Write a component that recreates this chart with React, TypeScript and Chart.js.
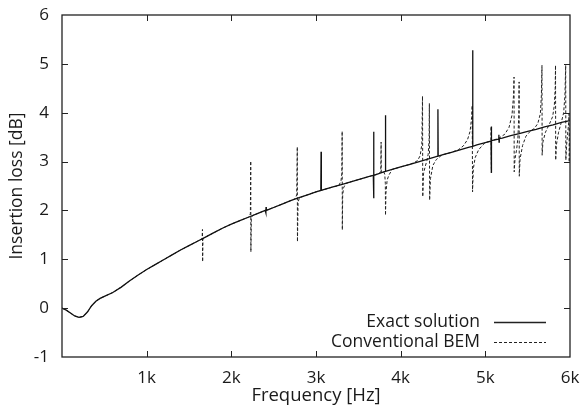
import { useEffect, useRef } from "react";
import { Chart, registerables } from "chart.js";
Chart.register(...registerables);

const FONT = "'Open Sans', 'DejaVu Sans', sans-serif";
const TEXT = "#1a1a1a";

const xTickValues = [1000, 2000, 3000, 4000, 5000, 6000];
const xTickLabels = ["1k", "2k", "3k", "4k", "5k", "6k"];
const yTickValues = [-1, 0, 1, 2, 3, 4, 5, 6];
const seriesNames = ["Exact solution", "Conventional BEM"];
const xTitle = "Frequency [Hz]";
const yTitle = "Insertion loss [dB]";

// [frequency Hz, insertion loss dB]
const exactPoints: [number, number][] = [
  [0, 0.0], [50, -0.04], [100, -0.1], [150, -0.16], [200, -0.19], [250, -0.17], [300, -0.08],
  [350, 0.05], [400, 0.14], [450, 0.2], [500, 0.24], [600, 0.32], [700, 0.43], [800, 0.56],
  [900, 0.68], [1000, 0.79], [1100, 0.89], [1200, 0.99], [1300, 1.09], [1400, 1.19], [1500, 1.28],
  [1600, 1.37], [1700, 1.46], [1800, 1.55], [1900, 1.64], [2000, 1.72], [2100, 1.79], [2200, 1.86],
  [2300, 1.93], [2400, 2.0], [2408, 1.95], [2410, 2.07], [2413, 2.0],
  [2500, 2.06], [2600, 2.13], [2700, 2.2], [2800, 2.26], [2900, 2.32], [3000, 2.38],
  [3057, 2.41], [3060, 3.2], [3063, 2.41],
  [3100, 2.43], [3200, 2.48], [3300, 2.53], [3400, 2.58], [3500, 2.63], [3600, 2.68],
  [3677, 2.72], [3680, 3.61], [3682, 2.25], [3685, 2.72],
  [3700, 2.73], [3800, 2.79], [3817, 2.8], [3820, 3.95], [3823, 2.8],
  [3900, 2.84], [4000, 2.89], [4100, 2.94], [4200, 2.99], [4300, 3.04], [4400, 3.09],
  [4437, 3.11], [4440, 4.07], [4443, 3.11],
  [4500, 3.14], [4600, 3.19], [4700, 3.24], [4800, 3.29],
  [4847, 3.31], [4850, 5.28], [4853, 3.31],
  [4900, 3.34], [5000, 3.39],
  [5067, 3.42], [5070, 3.72], [5072, 2.77], [5075, 3.43],
  [5100, 3.44], [5157, 3.46], [5160, 3.55], [5162, 3.4], [5165, 3.47],
  [5200, 3.48], [5300, 3.53], [5400, 3.57], [5500, 3.62], [5600, 3.66], [5700, 3.71],
  [5800, 3.75], [5900, 3.8], [6000, 3.84],
];

const bemPoints: [number, number][] = [
  [0, 0.0], [50, -0.04], [100, -0.1], [150, -0.16], [200, -0.19], [250, -0.17], [300, -0.08],
  [350, 0.05], [400, 0.14], [450, 0.2], [500, 0.24], [600, 0.32], [700, 0.43], [800, 0.56],
  [900, 0.68], [1000, 0.79], [1100, 0.89], [1200, 0.99], [1300, 1.09], [1400, 1.19], [1500, 1.28],
  [1600, 1.37], [1655, 1.42], [1659, 1.61], [1661, 0.95], [1665, 1.42],
  [1700, 1.46], [1800, 1.55], [1900, 1.64], [2000, 1.72], [2100, 1.79], [2200, 1.86],
  [2215, 1.87], [2225, 1.94], [2229, 3.01], [2231, 1.15], [2236, 1.82], [2245, 1.89],
  [2300, 1.93], [2400, 2.0], [2500, 2.06], [2600, 2.13], [2700, 2.2],
  [2755, 2.24], [2772, 2.32], [2779, 3.3], [2781, 1.36], [2788, 2.17], [2805, 2.26],
  [2900, 2.32], [3000, 2.38], [3100, 2.43], [3200, 2.48],
  [3270, 2.51], [3295, 2.6], [3305, 2.75], [3309, 3.62], [3311, 1.6], [3315, 2.3], [3325, 2.46], [3350, 2.55],
  [3400, 2.58], [3500, 2.63], [3600, 2.68], [3700, 2.73],
  [3750, 2.76], [3765, 2.8], [3769, 3.4], [3771, 2.78], [3800, 2.79], [3812, 2.74], [3819, 2.55],
  [3821, 1.9], [3826, 2.35], [3840, 2.62], [3860, 2.72], [3900, 2.84],
  [4000, 2.89], [4100, 2.94], [4150, 2.97], [4200, 3.02], [4230, 3.12], [4250, 3.35],
  [4258, 4.34], [4261, 2.28], [4270, 2.75], [4290, 2.9], [4310, 3.02], [4325, 3.15], [4336, 3.45],
  [4339, 4.19], [4342, 2.21], [4352, 2.65], [4380, 2.92], [4420, 3.04], [4470, 3.11],
  [4500, 3.14], [4600, 3.19], [4680, 3.24], [4740, 3.32], [4790, 3.45], [4820, 3.62],
  [4838, 3.9], [4845, 4.15], [4849, 2.38], [4858, 2.85], [4880, 3.08], [4920, 3.24], [4970, 3.34],
  [5000, 3.39], [5067, 3.42], [5069, 3.72], [5071, 2.77], [5074, 3.43], [5100, 3.44],
  [5170, 3.49], [5230, 3.56], [5280, 3.7], [5315, 3.95], [5333, 4.35], [5339, 4.73], [5341, 2.79],
  [5350, 3.05], [5370, 3.25], [5385, 3.5], [5395, 3.95], [5399, 4.63], [5401, 2.7], [5410, 3.05],
  [5440, 3.33], [5480, 3.52], [5530, 3.62], [5580, 3.68], [5620, 3.78], [5650, 3.98], [5662, 4.35],
  [5669, 4.97], [5671, 3.13], [5680, 3.4], [5710, 3.6], [5760, 3.78], [5795, 3.92], [5815, 4.15],
  [5825, 4.5], [5829, 4.97], [5831, 3.03], [5840, 3.35], [5865, 3.6], [5900, 3.82], [5925, 4.0],
  [5940, 4.35], [5949, 4.97], [5951, 3.03], [5960, 3.35], [5975, 3.62], [5985, 3.8], [5989, 3.97],
  [5991, 2.99], [5996, 3.5], [6000, 3.7],
];

const framePlugin = {
  id: "frameTicks",
  afterDatasetsDraw(chart: any) {
    const { ctx, chartArea: a, scales } = chart;
    const xs = scales.x;
    const ys = scales.y;
    ctx.save();
    ctx.strokeStyle = "#222";
    ctx.lineWidth = 1.3;
    ctx.strokeRect(a.left, a.top, a.right - a.left, a.bottom - a.top);
    ctx.lineWidth = 1;
    const L = 6;
    ctx.beginPath();
    xTickValues.forEach((v) => {
      if (v <= xs.min || v >= xs.max) return;
      const px = Math.round(xs.getPixelForValue(v)) + 0.5;
      ctx.moveTo(px, a.bottom);
      ctx.lineTo(px, a.bottom - L);
      ctx.moveTo(px, a.top);
      ctx.lineTo(px, a.top + L);
    });
    yTickValues.forEach((v) => {
      if (v <= ys.min || v >= ys.max) return;
      const py = Math.round(ys.getPixelForValue(v)) + 0.5;
      ctx.moveTo(a.left, py);
      ctx.lineTo(a.left + L, py);
      ctx.moveTo(a.right, py);
      ctx.lineTo(a.right - L, py);
    });
    ctx.stroke();

    // legend (gnuplot style, bottom right)
    ctx.font = `17.5px ${FONT}`;
    ctx.fillStyle = TEXT;
    ctx.textAlign = "right";
    ctx.textBaseline = "middle";
    const rows = [a.bottom - 35, a.bottom - 15];
    seriesNames.forEach((name, i) => {
      const y = rows[i];
      ctx.fillText(name, a.right - 90, y);
      ctx.beginPath();
      ctx.lineWidth = i === 0 ? 1.3 : 1;
      ctx.setLineDash(i === 0 ? [] : [3, 2]);
      ctx.moveTo(a.right - 76, y + 0.5);
      ctx.lineTo(a.right - 24, y + 0.5);
      ctx.stroke();
    });
    ctx.restore();
  },
};

export default function App() {
  const ref = useRef<HTMLCanvasElement | null>(null);
  useEffect(() => {
    if (!ref.current) return;
    const chart = new Chart(ref.current, {
      type: "line",
      data: {
        datasets: [
          {
            label: seriesNames[0],
            data: exactPoints.map(([x, y]) => ({ x, y })),
            borderColor: "#111",
            borderWidth: 1.3,
            pointRadius: 0,
            tension: 0,
          },
          {
            label: seriesNames[1],
            data: bemPoints.map(([x, y]) => ({ x, y })),
            borderColor: "#222",
            borderWidth: 1,
            borderDash: [3, 2],
            pointRadius: 0,
            tension: 0,
          },
        ],
      },
      options: {
        animation: false,
        responsive: false,
        devicePixelRatio: 1,
        layout: { padding: { top: 15, right: 10, left: 0, bottom: 0 } },
        plugins: { legend: { display: false }, tooltip: { enabled: false } },
        scales: {
          x: {
            type: "linear",
            min: 0,
            max: 6000,
            grid: { display: false, drawTicks: false },
            border: { display: false },
            ticks: {
              stepSize: 1000,
              padding: 11,
              color: TEXT,
              font: { family: FONT, size: 17 },
              maxRotation: 0,
              autoSkip: false,
              callback: (v: any) => {
                const i = xTickValues.indexOf(Number(v));
                return i >= 0 ? xTickLabels[i] : "";
              },
            },
            title: {
              display: true,
              text: xTitle,
              color: TEXT,
              font: { family: FONT, size: 18.5 },
              padding: { top: 0, bottom: 1 },
            },
            afterFit: (s: any) => {
              s.height = 51;
              s.paddingLeft = 0;
              s.paddingRight = 0;
            },
          },
          y: {
            type: "linear",
            min: -1,
            max: 6,
            grid: { display: false, drawTicks: false },
            border: { display: false },
            afterBuildTicks: (s: any) => {
              s.ticks = yTickValues.map((v) => ({ value: v }));
            },
            ticks: {
              padding: 13,
              color: TEXT,
              font: { family: FONT, size: 17 },
              callback: (v: any) => String(v),
            },
            title: {
              display: true,
              text: yTitle,
              color: TEXT,
              font: { family: FONT, size: 17.5 },
              padding: { top: 7, bottom: 0 },
            },
            afterFit: (s: any) => {
              s.width = 62;
              s.paddingTop = 0;
              s.paddingBottom = 0;
            },
          },
        },
      },
      plugins: [framePlugin],
    });
    return () => chart.destroy();
  }, []);
  return (
    <div style={{ position: "fixed", left: 0, top: 0, width: 580, height: 408, background: "#fff" }}>
      <canvas ref={ref} width={580} height={408} style={{ display: "block", width: 580, height: 408 }} />
    </div>
  );
}
